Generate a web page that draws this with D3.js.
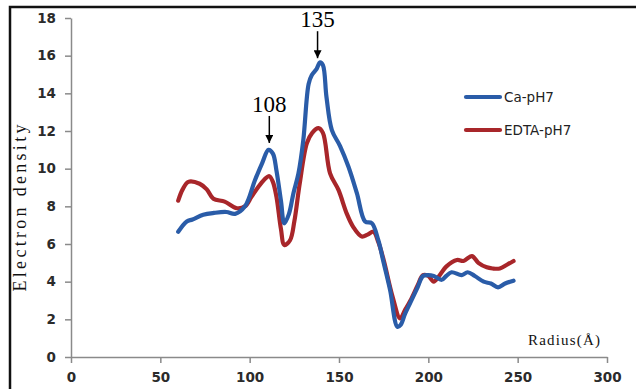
<!DOCTYPE html>
<html>
<head>
<meta charset="utf-8">
<script src="https://cdn.jsdelivr.net/npm/d3@7"></script>
<style>
  body { margin: 0; background: #fff; }
  svg { display: block; }
</style>
</head>
<body>
<div id="chart"></div>
<script>
// radius (Å) for each curve and electron density values
const caRadius = [60, 64.8, 68, 74, 80, 87, 91.8, 97.4, 103, 107, 110.5, 113, 115, 117.5, 119.4, 122, 124.5, 127.3, 130, 133, 134.8, 137.5, 139.4, 141, 143, 146, 150.6, 155.3, 160, 164.6, 168.4, 172, 175, 178.6, 182.7, 184.5, 187, 190, 194, 197, 200, 203, 207.5, 210, 213, 218.7, 222, 226, 231, 235, 239, 243, 247.7];
const caDensity = [6.65, 7.2, 7.3, 7.55, 7.65, 7.7, 7.6, 8.0, 9.4, 10.3, 11.0, 10.8, 9.9, 8.3, 7.1, 7.6, 8.7, 9.75, 11.5, 14.5, 14.97, 15.3, 15.65, 15.5, 13.8, 12.05, 11.2, 10.1, 8.7, 7.2, 7.1, 6.2, 5.0, 3.55, 1.6, 1.7, 2.3, 2.9, 3.7, 4.3, 4.35, 4.3, 4.1, 4.3, 4.5, 4.35, 4.5, 4.3, 4.0, 3.9, 3.7, 3.9, 4.05];

const edtaRadius = [60, 62.5, 65.7, 72, 76, 79.7, 86, 92.8, 97.4, 101, 105, 108, 111, 113, 115, 117.5, 119.4, 122.6, 125, 128, 132, 135, 138.5, 141, 145, 149.7, 154.4, 158, 162.7, 166, 169.3, 172, 175, 180, 184.2, 187, 190, 194, 197, 200, 203, 206, 210, 216, 219.7, 224.4, 228, 232.7, 236, 240, 244, 247.7];
const edtaDensity = [8.3, 8.9, 9.3, 9.2, 8.9, 8.4, 8.25, 7.9, 8.0, 8.5, 9.05, 9.4, 9.6, 9.3, 8.5, 6.8, 5.95, 6.2, 7.2, 9.2, 11.35, 11.9, 12.15, 11.9, 9.75, 8.87, 7.6, 6.9, 6.4, 6.5, 6.65, 6.1, 5.15, 3.2, 2.05, 2.5, 3.0, 3.8, 4.35, 4.3, 4.0, 4.3, 4.8, 5.15, 5.1, 5.36, 5.0, 4.76, 4.7, 4.7, 4.9, 5.1];

const xTicks = [0, 50, 100, 150, 200, 250, 300];
const yTicks = [0, 2, 4, 6, 8, 10, 12, 14, 16, 18];

const seriesNames = ['Ca-pH7', 'EDTA-pH7'];
const seriesColors = ['#2a5ca8', '#a8262a'];

// peak markers
const peakLabels = ['108', '135'];
const peakRadius = [111, 138];
const peakDensity = [11.1, 15.6];

const width = 636, height = 389;
const svg = d3.select('#chart').append('svg')
  .attr('width', width)
  .attr('height', height);

// outer frame (only top and left edges visible)
svg.append('path')
  .attr('d', `M10,${height} L10,7 L${width},7`)
  .attr('fill', 'none')
  .attr('stroke', '#111')
  .attr('stroke-width', 2.5);

const x = d3.scaleLinear().domain([0, 300]).range([71, 607]);
const y = d3.scaleLinear().domain([0, 18]).range([357, 18]);

const axisColor = '#8a8a8a';
const tickFont = '"DejaVu Sans", Verdana, sans-serif';
const titleFont = '"Liberation Serif", "Times New Roman", serif';

// x axis
const xAxis = svg.append('g')
  .attr('transform', `translate(0,${y(0)})`)
  .call(d3.axisBottom(x).tickValues(xTicks).tickSize(6).tickPadding(9).tickSizeOuter(0));
// y axis
const yAxis = svg.append('g')
  .attr('transform', `translate(${x(0)},0)`)
  .call(d3.axisLeft(y).tickValues(yTicks).tickSize(6).tickPadding(9).tickSizeOuter(0));

[xAxis, yAxis].forEach(a => {
  a.select('.domain').attr('stroke', axisColor).attr('stroke-width', 1.5);
  a.selectAll('.tick line').attr('stroke', axisColor).attr('stroke-width', 1.5);
  a.selectAll('.tick text')
    .attr('fill', '#2b2b2b')
    .attr('font-family', tickFont)
    .attr('font-weight', 'bold')
    .attr('font-size', '13.5px');
});

// curves
const line = d3.line().curve(d3.curveCatmullRom.alpha(0.5));
const series = [
  { r: caRadius, v: caDensity },
  { r: edtaRadius, v: edtaDensity }
];
series.slice().reverse().forEach((s, idx) => {
  const i = series.length - 1 - idx;
  const pts = s.r.map((r, k) => [x(r), y(s.v[k])]);
  svg.append('path')
    .attr('d', line(pts))
    .attr('fill', 'none')
    .attr('stroke', seriesColors[i])
    .attr('stroke-width', 4.2)
    .attr('stroke-linejoin', 'round')
    .attr('stroke-linecap', 'round');
});

// legend
const legend = svg.append('g');
seriesNames.forEach((name, i) => {
  const ly = 97 + i * 33;
  legend.append('line')
    .attr('x1', 466).attr('x2', 500)
    .attr('y1', ly).attr('y2', ly)
    .attr('stroke', seriesColors[i])
    .attr('stroke-width', 4.2)
    .attr('stroke-linecap', 'round');
  legend.append('text')
    .attr('x', 504).attr('y', ly)
    .attr('dy', '0.36em')
    .attr('font-family', tickFont)
    .attr('font-size', '13.5px')
    .attr('fill', '#222')
    .text(name);
});

// peak annotations
svg.append('defs').append('marker')
  .attr('id', 'arrow')
  .attr('viewBox', '0 0 10 10')
  .attr('refX', 10).attr('refY', 5)
  .attr('markerWidth', 8).attr('markerHeight', 8)
  .attr('markerUnits', 'userSpaceOnUse')
  .attr('orient', 'auto')
  .append('path')
  .attr('d', 'M0,0 L10,5 L0,10 Z')
  .attr('fill', '#000');

peakLabels.forEach((label, i) => {
  const px = x(peakRadius[i]);
  const tipY = y(peakDensity[i]) - 5;
  svg.append('line')
    .attr('x1', px).attr('x2', px)
    .attr('y1', tipY - 27).attr('y2', tipY)
    .attr('stroke', '#000')
    .attr('stroke-width', 1.5)
    .attr('marker-end', 'url(#arrow)');
  svg.append('text')
    .attr('x', px)
    .attr('y', tipY - 31)
    .attr('text-anchor', 'middle')
    .attr('font-family', titleFont)
    .attr('font-size', '23px')
    .attr('fill', '#000')
    .text(label);
});

// axis titles
svg.append('text')
  .attr('transform', 'translate(26,208) rotate(-90)')
  .attr('text-anchor', 'middle')
  .attr('font-family', titleFont)
  .attr('font-size', '18px')
  .attr('textLength', 167)
  .attr('lengthAdjust', 'spacing')
  .attr('fill', '#111')
  .text('Electron density');

svg.append('text')
  .attr('x', 564).attr('y', 345)
  .attr('text-anchor', 'middle')
  .attr('font-family', titleFont)
  .attr('font-size', '15px')
  .attr('textLength', 72)
  .attr('lengthAdjust', 'spacing')
  .attr('fill', '#111')
  .text('Radius(Å)');
</script>
</body>
</html>
